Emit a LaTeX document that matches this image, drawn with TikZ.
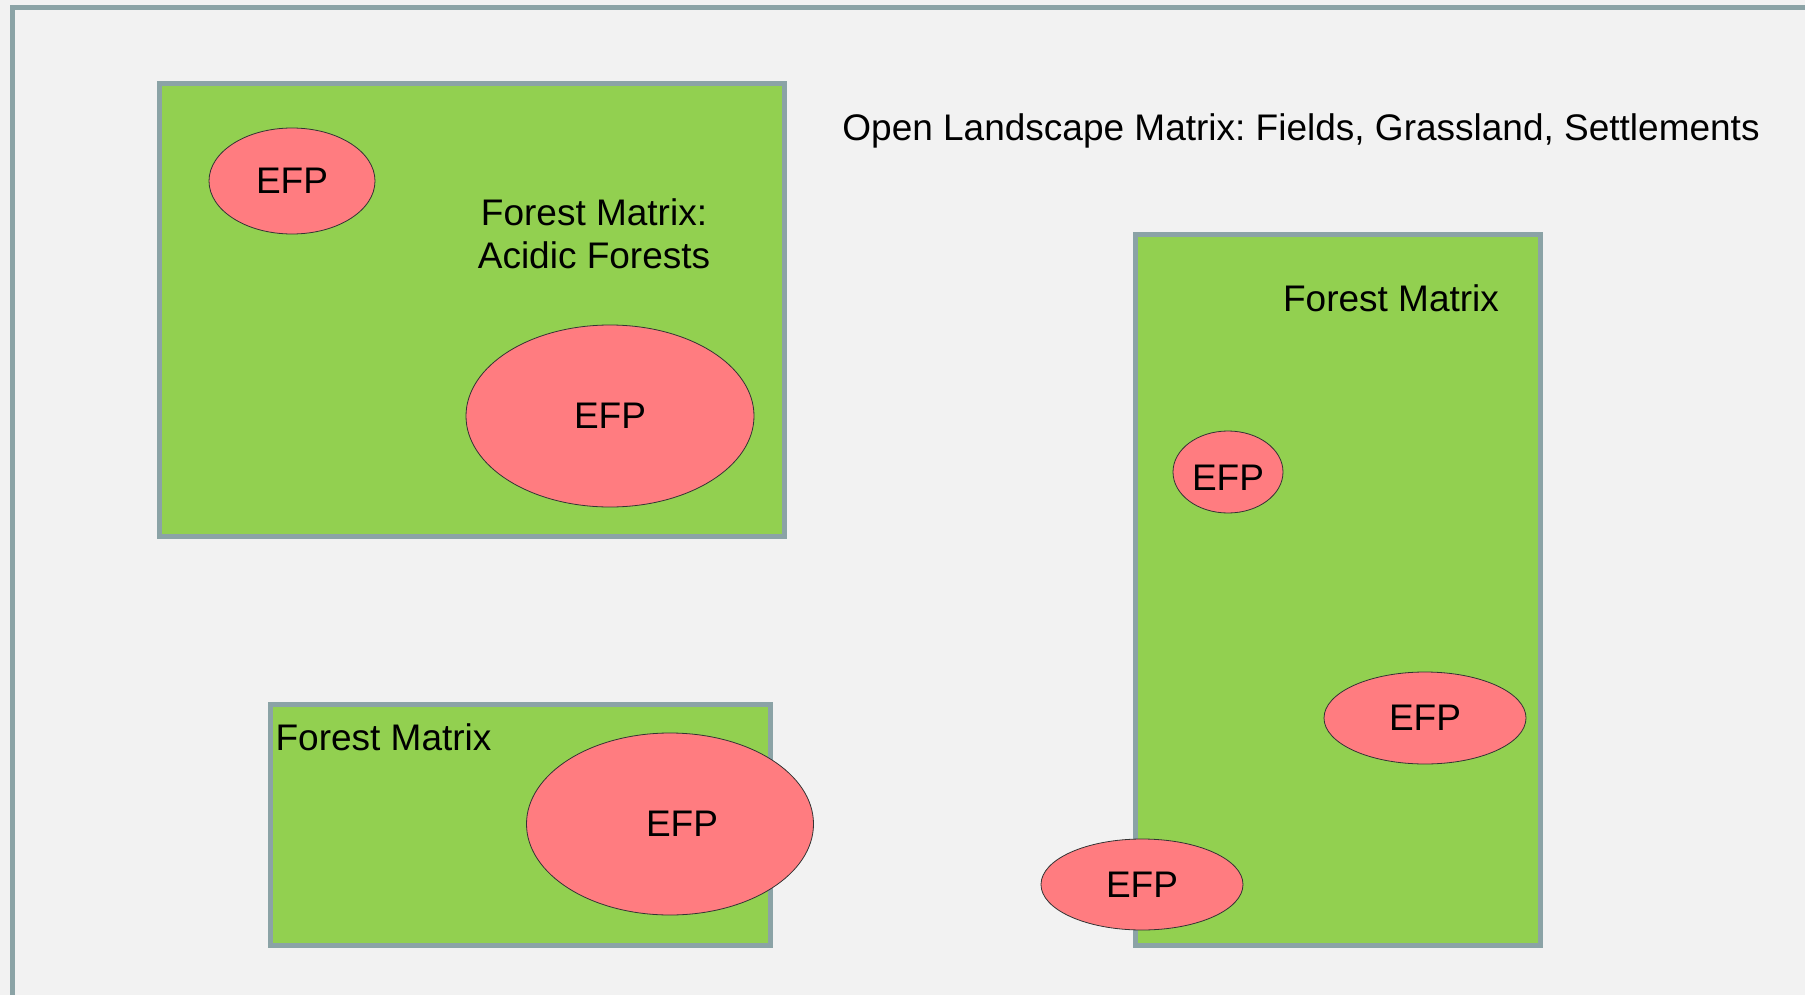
\documentclass[tikz,border=0pt]{standalone}
\usepackage{fontspec}
\setmainfont{Liberation Sans}
\usetikzlibrary{shapes.geometric}
\definecolor{bggray}{HTML}{F2F2F2}
\definecolor{framegray}{HTML}{8BA3A6}
\definecolor{forestgreen}{HTML}{92D050}
\definecolor{efppink}{HTML}{FF7C80}
\frenchspacing
\begin{document}
\begin{tikzpicture}[x=0.5pt,y=-0.5pt,
    forest/.style={draw=framegray,fill=forestgreen,line width=2.5pt},
    efp/.style={ellipse,draw=black!80,fill=efppink,line width=0.4pt,inner sep=0pt},
    lbl/.style={font=\fontsize{18.5}{21.5}\selectfont,inner sep=0pt}]
  \useasboundingbox (0,0) rectangle (1805,995);
  \fill[bggray] (0,0) rectangle (1805,995);
  % outer frame, runs off the page at right and bottom
  \begin{scope}
    \clip (0,0) rectangle (1805,995);
    \draw[framegray,line width=2.5pt] (12.5,7.5) rectangle (1830,1020);
  \end{scope}
  \node[lbl] (open) at (1301,131) {Open Landscape Matrix: Fields, Grassland, Settlements};
  % forest patches
  \draw[forest] (159.5,83.5) rectangle (784,536.5);
  \draw[forest] (270,704) rectangle (770,945);
  \draw[forest] (1135.5,234) rectangle (1540,945);
  \node[lbl,align=center] (acidic) at (594,234) {Forest Matrix:\\Acidic Forests};
  \node[lbl] (fmleft) at (383.5,737) {Forest Matrix};
  \node[lbl] (fmright) at (1391,298) {Forest Matrix};
  % EFP patches
  \foreach \n/\x/\y/\w/\h in {a/292/181/166/106, b/610/416/288/182,
      e/1425/718/202/92, f/1142/884.5/202/91} {
    \node[efp,lbl,minimum width=\w*0.5pt,minimum height=\h*0.5pt] (efp\n) at (\x,\y) {EFP};
  }
  \node[efp,minimum width=287*0.5pt,minimum height=182*0.5pt,
    label={[lbl,xshift=6pt]center:EFP}] (efpc) at (670,824) {};
  \node[efp,minimum width=110*0.5pt,minimum height=82*0.5pt,
    label={[lbl,yshift=-3pt]center:EFP}] (efpd) at (1228,472) {};
\end{tikzpicture}
\end{document}
